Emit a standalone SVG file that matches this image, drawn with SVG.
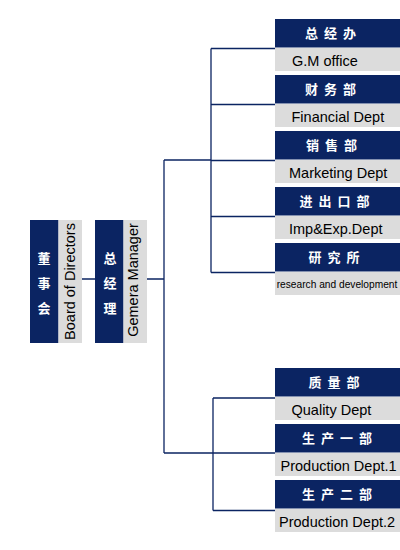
<svg xmlns="http://www.w3.org/2000/svg" width="400" height="550" viewBox="0 0 400 550">
<style>
.dk{fill:#0b2462}
.gy{fill:#dcdcdc}
.cn{font-family:"Liberation Sans","Noto Sans CJK SC",sans-serif;font-weight:bold;font-size:13px;fill:#fff;letter-spacing:6px}
.cv{font-family:"Liberation Sans","Noto Sans CJK SC",sans-serif;font-weight:bold;font-size:13px;fill:#fff;text-anchor:middle}
.en{font-family:"Liberation Sans",Arial,sans-serif;font-size:14.5px;fill:#000}
.sm{font-family:"Liberation Sans",Arial,sans-serif;font-size:10.2px;fill:#000;text-anchor:middle}
.ln{stroke:#0b2462;stroke-width:1.3;fill:none}
</style>
<rect width="400" height="550" fill="#fff"/>
<g id="connectors" class="ln">
<path d="M82 279H95M147 279H164M164 160V453M164 160H211M211 48.5V272.5M211 48.5H275M211 104.5H275M211 160.5H275M211 216.5H275M211 272.5H275M164 453H275M213 398V510.5M213 398H275M213 510.5H275"/>
</g>
<g id="board">
<rect class="dk" x="30" y="220" width="28.5" height="123"/>
<rect class="gy" x="58.5" y="220" width="23.5" height="123"/>
<text class="cv" x="44" y="262.5">董</text>
<text class="cv" x="44" y="287.5">事</text>
<text class="cv" x="44" y="312.5">会</text>
<text class="en" text-anchor="middle" transform="translate(75,281.5) rotate(-90)">Board of Directors</text>
</g>
<g id="gm">
<rect class="dk" x="95" y="220" width="28.5" height="123"/>
<rect class="gy" x="123.5" y="220" width="23.5" height="123"/>
<text class="cv" x="110" y="262.5">总</text>
<text class="cv" x="110" y="287.5">经</text>
<text class="cv" x="110" y="312.5">理</text>
<text class="en" text-anchor="middle" transform="translate(137.5,280) rotate(-90)">Gemera Manager</text>
</g>
<g id="gmoffice">
<rect class="dk" x="275" y="19" width="125" height="28.5"/>
<rect class="gy" x="275" y="48" width="125" height="23"/>
<text class="cn" x="305" y="38">总经办</text>
<text class="en" x="292" y="66">G.M office</text>
</g>
<g id="financial">
<rect class="dk" x="275" y="75" width="125" height="28.5"/>
<rect class="gy" x="275" y="104" width="125" height="23"/>
<text class="cn" x="305" y="94">财务部</text>
<text class="en" x="291.5" y="122">Financial Dept</text>
</g>
<g id="marketing">
<rect class="dk" x="275" y="131" width="125" height="28.5"/>
<rect class="gy" x="275" y="160" width="125" height="23"/>
<text class="cn" x="306" y="150">销售部</text>
<text class="en" x="289" y="178">Marketing Dept</text>
</g>
<g id="impexp">
<rect class="dk" x="275" y="187" width="125" height="28.5"/>
<rect class="gy" x="275" y="216" width="125" height="23"/>
<text class="cn" x="299.5" y="206">进出口部</text>
<text class="en" x="289" y="234">Imp&amp;Exp.Dept</text>
</g>
<g id="research">
<rect class="dk" x="275" y="243" width="125" height="28.5"/>
<rect class="gy" x="275" y="272" width="125" height="23"/>
<text class="cn" x="308.5" y="262">研究所</text>
<text class="sm" x="337" y="288">research and development</text>
</g>
<g id="quality">
<rect class="dk" x="275" y="368" width="125" height="28.5"/>
<rect class="gy" x="275" y="397" width="125" height="23"/>
<text class="cn" x="308.5" y="387">质量部</text>
<text class="en" x="291.5" y="415">Quality Dept</text>
</g>
<g id="production1">
<rect class="dk" x="275" y="424" width="125" height="28.5"/>
<rect class="gy" x="275" y="453" width="125" height="23"/>
<text class="cn" x="302" y="443">生产一部</text>
<text class="en" x="280.5" y="471">Production Dept.1</text>
</g>
<g id="production2">
<rect class="dk" x="275" y="480" width="125" height="28.5"/>
<rect class="gy" x="275" y="509" width="125" height="23"/>
<text class="cn" x="302" y="499">生产二部</text>
<text class="en" x="279" y="527">Production Dept.2</text>
</g>
</svg>
